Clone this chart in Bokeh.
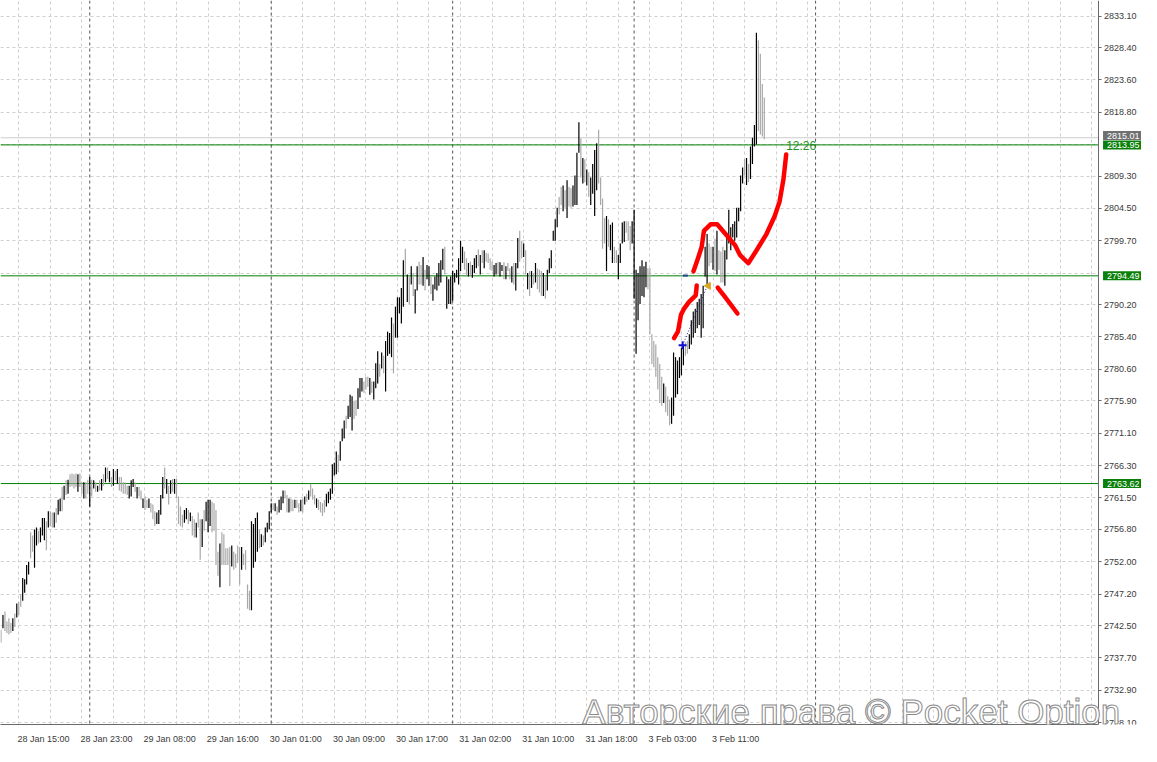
from bokeh.plotting import figure
from bokeh.models import (Range1d, FixedTicker, PrintfTickFormatter, Span, Label,
                          ColumnDataSource)
from bokeh.core.properties import value
from bokeh.embed import file_html
from bokeh.resources import INLINE

# ---------------- data (XAUUSD M15 bars) ----------------
highs = [
    2741.9, 2744.1, 2744.6, 2743.1, 2743.6, 2742.9, 2743.6, 2744.3, 2745.8, 2746.0,
    2747.2, 2749.6, 2749.4, 2751.5, 2752.0, 2756.4, 2755.9, 2756.8, 2757.1, 2756.6,
    2757.1, 2758.5, 2758.5, 2758.0, 2759.5, 2759.5, 2759.3, 2759.3, 2760.0, 2761.2,
    2761.4, 2763.1, 2763.3, 2764.1, 2764.2, 2765.0, 2765.1, 2765.0, 2765.1, 2765.0,
    2765.1, 2763.8, 2763.8, 2763.8, 2764.2, 2764.6, 2764.2, 2764.1, 2763.8, 2763.3,
    2764.1, 2764.3, 2765.0, 2766.0, 2766.0, 2765.5, 2764.6, 2765.8, 2765.5, 2765.8,
    2764.6, 2764.6, 2763.8, 2763.8, 2763.3, 2763.3, 2764.1, 2764.3, 2763.8, 2763.1,
    2763.1, 2762.6, 2761.4, 2761.7, 2761.2, 2761.4, 2760.7, 2760.5, 2759.5, 2759.3,
    2759.7, 2761.9, 2764.6, 2766.0, 2764.3, 2763.3, 2764.1, 2764.3, 2764.3, 2764.3,
    2761.7, 2760.2, 2759.0, 2759.7, 2760.0, 2759.7, 2759.3, 2758.8, 2758.3, 2757.8,
    2759.3, 2758.3, 2758.3, 2759.7, 2760.9, 2761.2, 2761.2, 2760.9, 2760.7, 2759.7,
    2753.5, 2754.7, 2756.4, 2756.1, 2754.0, 2754.0, 2754.2, 2754.4, 2753.5, 2753.2,
    2754.4, 2754.2, 2754.2, 2753.2, 2753.7, 2748.6, 2747.7, 2758.0, 2757.6, 2758.5,
    2759.3, 2756.8, 2756.1, 2755.9, 2757.1, 2757.8, 2759.5, 2760.7, 2760.7, 2760.7,
    2760.2, 2761.2, 2761.7, 2762.6, 2762.6, 2761.9, 2761.4, 2761.4, 2761.2, 2761.2,
    2761.2, 2760.7, 2761.2, 2761.4, 2761.7, 2762.1, 2762.6, 2763.6, 2762.9, 2761.9,
    2761.4, 2761.2, 2760.9, 2760.7, 2761.2, 2762.1, 2762.4, 2762.9, 2766.5, 2766.7,
    2768.4, 2767.9, 2769.9, 2771.8, 2773.0, 2773.7, 2775.2, 2776.8, 2776.6, 2775.9,
    2775.9, 2777.8, 2779.3, 2779.3, 2778.8, 2779.5, 2779.5, 2779.3, 2778.8, 2778.8,
    2781.5, 2783.3, 2781.4, 2783.1, 2782.6, 2784.8, 2786.2, 2786.0, 2788.3, 2787.4,
    2789.9, 2791.3, 2791.3, 2792.7, 2796.8, 2798.5, 2794.7, 2794.4, 2795.9, 2794.9,
    2792.5, 2795.9, 2796.6, 2796.1, 2797.3, 2795.4, 2796.1, 2795.9, 2794.4, 2793.2,
    2794.4, 2794.9, 2796.4, 2796.8, 2798.5, 2798.8, 2794.4, 2794.0, 2794.4, 2795.2,
    2794.9, 2795.4, 2797.1, 2799.7, 2798.8, 2798.1, 2797.1, 2796.4, 2796.6, 2796.1,
    2797.1, 2797.6, 2798.4, 2797.6, 2798.3, 2798.3, 2797.9, 2797.8, 2797.1, 2796.6,
    2796.1, 2796.4, 2796.6, 2796.5, 2796.1, 2796.5, 2795.9, 2796.4, 2795.6, 2795.9,
    2796.4, 2796.4, 2800.1, 2801.2, 2799.7, 2799.3, 2798.3, 2794.9, 2795.2, 2795.2,
    2794.9, 2796.4, 2795.6, 2795.4, 2795.2, 2794.9, 2794.4, 2795.4, 2797.1, 2798.3,
    2801.2, 2802.9, 2804.6, 2806.2, 2807.7, 2807.9, 2807.2, 2808.7, 2807.7, 2807.5,
    2807.9, 2809.4, 2812.8, 2817.3, 2814.9, 2812.0, 2811.8, 2810.3, 2809.9, 2809.1,
    2811.1, 2813.2, 2814.2, 2816.2, 2809.1, 2806.0, 2803.1, 2803.4, 2802.9, 2802.1,
    2802.4, 2798.8, 2798.3, 2797.6, 2799.3, 2802.4, 2802.6, 2802.6, 2802.6, 2801.9,
    2802.6, 2804.3, 2795.4, 2794.9, 2795.9, 2796.8, 2795.9, 2796.6, 2795.6, 2795.6,
    2785.8, 2784.8, 2784.3, 2782.4, 2781.4, 2779.5, 2778.5, 2778.0, 2776.6, 2776.1,
    2776.4, 2783.1, 2782.4, 2781.9, 2782.4, 2783.8, 2784.3, 2784.6, 2784.8, 2785.8,
    2787.9, 2789.2, 2789.6, 2790.6, 2791.1, 2791.8, 2793.0, 2798.8, 2800.7, 2799.3,
    2798.8, 2798.8, 2800.0, 2801.2, 2798.3, 2798.1, 2798.8, 2798.3, 2800.2, 2804.3,
    2801.7, 2802.2, 2802.6, 2804.6, 2804.6, 2809.4, 2810.6, 2811.8, 2812.0, 2811.1,
    2813.7, 2815.0, 2816.9, 2830.6, 2829.5, 2827.5, 2823.0, 2821.0,
]
lows = [
    2740.0, 2742.1, 2741.7, 2741.4, 2741.2, 2741.4, 2741.7, 2742.3, 2743.7, 2744.1,
    2745.3, 2746.2, 2747.4, 2748.6, 2750.1, 2752.5, 2753.5, 2751.1, 2754.4, 2754.7,
    2754.9, 2755.9, 2755.2, 2753.7, 2757.1, 2757.3, 2757.1, 2757.1, 2757.8, 2759.0,
    2759.5, 2759.5, 2761.2, 2761.9, 2762.1, 2763.1, 2763.2, 2762.9, 2763.1, 2762.4,
    2763.1, 2762.1, 2761.4, 2761.4, 2762.1, 2760.2, 2761.7, 2762.9, 2762.4, 2762.4,
    2762.6, 2762.6, 2763.3, 2763.8, 2764.3, 2763.8, 2763.1, 2763.3, 2764.1, 2763.6,
    2762.6, 2762.4, 2762.1, 2762.1, 2761.9, 2761.4, 2761.7, 2763.1, 2762.4, 2761.4,
    2761.7, 2761.2, 2760.0, 2759.7, 2760.0, 2760.0, 2759.3, 2758.3, 2757.3, 2757.6,
    2757.6, 2759.0, 2761.4, 2762.9, 2762.1, 2760.5, 2762.1, 2762.4, 2762.1, 2761.4,
    2757.6, 2757.3, 2757.1, 2757.8, 2758.3, 2757.6, 2758.0, 2755.9, 2755.6, 2755.6,
    2757.1, 2752.3, 2754.2, 2756.6, 2758.0, 2756.4, 2757.3, 2756.4, 2756.6, 2751.5,
    2749.9, 2748.2, 2751.5, 2751.5, 2751.5, 2751.5, 2748.4, 2751.3, 2750.8, 2751.1,
    2751.8, 2748.6, 2750.8, 2751.5, 2750.8, 2745.0, 2744.8, 2744.8, 2751.1, 2752.0,
    2753.5, 2754.0, 2754.2, 2754.4, 2754.9, 2756.4, 2756.8, 2759.3, 2759.7, 2759.5,
    2759.0, 2759.3, 2759.7, 2760.7, 2761.4, 2759.3, 2759.3, 2759.5, 2759.5, 2760.0,
    2760.0, 2759.3, 2759.5, 2759.3, 2760.5, 2760.9, 2761.2, 2761.7, 2761.2, 2760.5,
    2760.0, 2759.7, 2759.3, 2758.8, 2759.3, 2760.2, 2760.7, 2761.2, 2762.1, 2764.8,
    2765.0, 2765.3, 2767.0, 2769.9, 2770.3, 2771.8, 2773.2, 2773.5, 2771.5, 2773.2,
    2773.7, 2774.7, 2776.4, 2777.3, 2777.1, 2777.6, 2778.0, 2776.8, 2777.1, 2776.1,
    2777.8, 2778.5, 2779.5, 2780.7, 2780.0, 2777.3, 2782.6, 2782.9, 2782.4, 2780.0,
    2785.3, 2785.3, 2788.9, 2787.4, 2789.9, 2794.7, 2790.6, 2790.3, 2793.2, 2791.5,
    2788.9, 2792.3, 2793.2, 2793.2, 2793.0, 2792.3, 2794.0, 2793.0, 2791.8, 2790.8,
    2792.5, 2792.3, 2793.0, 2793.5, 2795.4, 2794.7, 2789.6, 2790.3, 2790.3, 2790.8,
    2793.5, 2794.2, 2793.2, 2795.2, 2796.4, 2795.4, 2794.4, 2794.4, 2794.4, 2794.2,
    2794.9, 2795.6, 2795.9, 2794.7, 2796.4, 2795.6, 2796.6, 2796.4, 2795.4, 2795.2,
    2794.4, 2794.7, 2794.7, 2794.4, 2795.2, 2794.0, 2794.0, 2795.2, 2794.0, 2793.5,
    2793.2, 2792.3, 2795.6, 2796.6, 2797.1, 2797.3, 2794.7, 2792.5, 2791.5, 2792.7,
    2793.2, 2793.5, 2792.5, 2792.0, 2791.5, 2791.5, 2791.1, 2792.3, 2794.9, 2795.6,
    2799.7, 2799.7, 2801.7, 2803.6, 2805.0, 2804.1, 2804.6, 2803.1, 2804.8, 2804.6,
    2804.8, 2805.0, 2805.0, 2812.8, 2809.1, 2808.2, 2808.4, 2807.9, 2806.2, 2805.0,
    2806.7, 2803.4, 2807.2, 2808.2, 2805.0, 2798.5, 2799.3, 2795.2, 2798.8, 2798.3,
    2796.4, 2796.4, 2796.4, 2794.0, 2796.4, 2799.3, 2799.5, 2800.9, 2799.7, 2798.3,
    2799.3, 2791.1, 2782.9, 2787.9, 2790.3, 2791.5, 2791.3, 2792.8, 2792.5, 2785.8,
    2781.4, 2780.9, 2779.5, 2777.6, 2775.6, 2775.2, 2775.6, 2774.2, 2773.7, 2772.3,
    2772.5, 2773.7, 2776.4, 2776.9, 2779.3, 2779.7, 2781.2, 2782.6, 2782.9, 2783.6,
    2784.3, 2785.3, 2786.0, 2786.7, 2787.2, 2785.3, 2786.7, 2794.4, 2793.2, 2795.9,
    2796.4, 2795.4, 2795.2, 2794.7, 2795.4, 2793.5, 2793.5, 2793.0, 2796.9, 2799.3,
    2798.3, 2800.2, 2799.7, 2800.2, 2802.6, 2804.1, 2808.2, 2809.4, 2808.0, 2808.4,
    2808.9, 2811.1, 2813.7, 2814.0, 2816.0, 2815.5, 2815.2, 2814.8,
]
ups = [
    0, 1, 0, 0, 0, 0, 1, 0, 1, 0,
    0, 1, 1, 1, 1, 0, 0, 1, 1, 0,
    1, 1, 1, 0, 1, 0, 0, 1, 0, 1,
    1, 0, 1, 0, 1, 0, 0, 0, 0, 1,
    0, 0, 1, 0, 0, 1, 0, 1, 0, 1,
    0, 1, 0, 1, 0, 1, 0, 1, 0, 1,
    0, 0, 0, 0, 0, 1, 1, 1, 0, 1,
    0, 0, 1, 0, 0, 1, 0, 0, 0, 1,
    1, 1, 1, 0, 1, 0, 1, 0, 1, 0,
    0, 0, 0, 1, 1, 0, 1, 0, 0, 1,
    0, 0, 1, 0, 1, 1, 1, 0, 0, 0,
    0, 1, 0, 0, 0, 0, 0, 1, 0, 0,
    0, 0, 1, 0, 0, 0, 0, 1, 1, 1,
    1, 0, 1, 0, 1, 1, 1, 1, 0, 1,
    0, 1, 1, 1, 0, 0, 1, 0, 0, 1,
    0, 0, 1, 0, 1, 0, 1, 0, 0, 0,
    1, 0, 0, 0, 0, 1, 1, 1, 1, 1,
    1, 0, 1, 1, 1, 0, 1, 1, 1, 0,
    0, 1, 1, 1, 0, 0, 0, 1, 0, 1,
    1, 1, 0, 1, 0, 1, 1, 1, 1, 0,
    1, 1, 1, 1, 1, 0, 1, 0, 1, 0,
    1, 1, 0, 0, 1, 0, 1, 1, 0, 1,
    1, 1, 1, 1, 1, 0, 1, 1, 1, 1,
    1, 1, 1, 1, 1, 0, 0, 1, 0, 1,
    1, 1, 0, 1, 0, 1, 0, 0, 0, 0,
    1, 1, 0, 1, 1, 0, 1, 0, 0, 1,
    0, 1, 1, 0, 0, 1, 0, 1, 0, 1,
    0, 1, 0, 0, 0, 1, 0, 1, 1, 1,
    1, 1, 1, 0, 0, 1, 0, 1, 0, 0,
    1, 1, 1, 1, 0, 1, 0, 1, 0, 1,
    1, 1, 1, 0, 0, 0, 0, 1, 0, 1,
    1, 0, 0, 1, 1, 1, 1, 0, 0, 0,
    1, 1, 1, 1, 1, 1, 1, 1, 0, 0,
    0, 0, 0, 0, 0, 0, 1, 0, 0, 0,
    1, 1, 1, 1, 1, 1, 1, 0, 0, 1,
    1, 1, 1, 1, 1, 1, 1, 1, 1, 0,
    0, 1, 0, 1, 0, 0, 0, 1, 1, 1,
    1, 1, 1, 1, 1, 1, 1, 0, 1, 0,
    1, 1, 1, 1, 0, 0, 0, 0,
]

y_tick_values = [2833.10, 2828.40, 2823.60, 2818.80, 2809.30, 2804.50, 2799.70,
                 2790.20, 2785.40, 2780.60, 2775.90, 2771.10, 2766.30, 2761.50,
                 2756.80, 2752.00, 2747.20, 2742.50, 2737.70, 2732.90, 2728.10]
y_hidden_grid_values = [2814.00, 2794.90]
time_labels = ["28 Jan 15:00", "28 Jan 23:00", "29 Jan 08:00", "29 Jan 16:00",
               "30 Jan 01:00", "30 Jan 09:00", "30 Jan 17:00", "31 Jan 02:00",
               "31 Jan 10:00", "31 Jan 18:00", "3 Feb 03:00", "3 Feb 11:00"]
time_label_bars = [8.5, 40.5, 72.5, 104.5, 136.5, 168.5, 200.5, 232.5, 264.5,
                   296.5, 328.5, 360.5]
day_separator_bars = [45, 137, 229, 321, 413]
level_prices = [2813.95, 2794.49, 2763.62]
bid_price = 2815.01
timer_text = "12:26"
timer_x, timer_y = 398.1, 2813.86
watermark_text = "Авторские права © Pocket Option"

# hand-drawn red strokes (bar index, price)
red1_x = [341.25, 343.25, 344.75, 346.25, 348.75, 352.25, 352.75]
red1_y = [2785.23, 2786.24, 2788.70, 2789.57, 2790.58, 2791.59, 2793.04]
red2_x = [351.1, 353.1, 355.25, 356.4, 359.75, 363.1, 368.1, 372.25, 374.75,
          378.9, 383.1, 388.1, 392.25, 394.75, 396.75, 398.1]
red2_y = [2795.16, 2796.84, 2798.78, 2801.18, 2802.15, 2802.15, 2800.46, 2799.01,
          2797.56, 2796.36, 2798.29, 2800.70, 2803.35, 2805.52, 2808.90, 2812.52]
red3_x = [363.4, 367.25, 373.4]
red3_y = [2792.75, 2791.30, 2788.89]
# trade markers
entry_x, entry_y = [345.6], [2784.17]
trade_line_x, trade_line_y = [345.6, 358.1], [2784.17, 2793.0]
exit_x, exit_y = [358.6], [2793.0]
dash_x, dash_y = [345.75, 348.25], [2794.53, 2794.53]

# ---------------- layout constants ----------------
X_LEFT, X_AXIS, X_RIGHT = -0.25, 556.25, 578.25      # chart edge, price axis, canvas edge (bar units)
Y_AXIS, Y_TOP = 2727.81, 2835.41                     # time axis, chart top (price)

FONT = "Liberation Sans"
p = figure(width=1141, height=746, output_backend="svg", toolbar_location=None,
           x_range=Range1d(X_LEFT, X_RIGHT), y_range=Range1d(Y_AXIS, Y_TOP),
           y_axis_location="right", min_border_left=0, min_border_top=0,
           min_border_right=0, min_border_bottom=18)
p.outline_line_color = None
p.background_fill_color = "white"

# grids
p.xgrid.ticker = FixedTicker(ticks=[9 + 16 * k for k in range(35)])
p.ygrid.ticker = FixedTicker(ticks=y_tick_values + y_hidden_grid_values)
for g in (p.xgrid, p.ygrid):
    g.grid_line_color = "#cfcfcf"
    g.grid_line_dash = "3 3"
    g.grid_line_width = 1

# day separators and bid line (underlay)
for b in day_separator_bars:
    p.add_layout(Span(location=b, dimension="height", line_color="#555555",
                      line_dash="3 3", line_width=1, level="underlay"))
p.add_layout(Span(location=bid_price, dimension="width", line_color="#cccccc",
                  line_width=1, level="underlay"))

# white margin that holds the price axis
p.quad(left=[X_AXIS], right=[X_RIGHT + 5], bottom=[Y_AXIS - 5], top=[Y_TOP + 5],
       fill_color="white", line_color=None)

# horizontal levels
p.segment(x0=[X_LEFT] * len(level_prices), x1=[X_AXIS] * len(level_prices),
          y0=level_prices, y1=level_prices, line_color="#008000", line_width=1)

# y axis (right, fixed inside canvas)
ya = p.yaxis[0]
ya.fixed_location = X_AXIS
ya.ticker = FixedTicker(ticks=y_tick_values)
ya.formatter = PrintfTickFormatter(format="%.2f")
ya.axis_line_color = "#6a6a6a"
ya.major_tick_line_color = "#6a6a6a"
ya.major_tick_out = 3
ya.major_tick_in = 0
ya.minor_tick_line_color = None
ya.major_label_standoff = 3
ya.major_label_text_font = FONT
ya.major_label_text_font_size = "9px"
ya.major_label_text_color = "#3a3a3a"

# x axis (bottom panel)
xa = p.xaxis[0]
xa.bounds = (X_LEFT, X_AXIS)
centers = [b + (12.0 if "Feb" in lab else 13.0) for b, lab in zip(time_label_bars, time_labels)]
xa.ticker = FixedTicker(ticks=centers)
xa.major_label_overrides = {c: lab for c, lab in zip(centers, time_labels)}
xa.axis_line_color = "#6a6a6a"
xa.major_tick_line_color = None
xa.minor_tick_line_color = None
xa.major_label_standoff = 3
xa.major_label_text_font = FONT
xa.major_label_text_font_size = "9px"
xa.major_label_text_color = "#3a3a3a"

# bars
src = ColumnDataSource(dict(
    x=list(range(len(highs))), high=highs, low=lows,
    color=["#000000" if u else "#a8a8a8" for u in ups]))
p.segment(x0="x", y0="low", x1="x", y1="high", source=src, line_color="color",
          line_width=1.2)

# red hand-drawn strokes
for xs, ys in ((red1_x, red1_y), (red2_x, red2_y), (red3_x, red3_y)):
    p.line(xs, ys, line_color="#ff0000", line_width=4.5, line_cap="round", line_join="round")

# trade markers
p.line(trade_line_x, trade_line_y, line_color="#1a1a9a", line_dash="1 2", line_width=1)
p.line(dash_x, dash_y, line_color="#1f3f8f", line_width=2)
p.scatter(entry_x, entry_y, marker="cross", size=8, line_color="#1010d0", line_width=2)
p.scatter(exit_x, exit_y, marker="triangle", angle=1.5708, size=7,
          fill_color="#d9a520", line_color="#d9a520")

# timer text
p.text(x=[timer_x], y=[timer_y], text=[timer_text], text_font=value(FONT),
       text_font_size="12px", text_color="#1f8f1f", text_baseline="middle",
       text_align="left")

# price boxes on the right axis
box_x = 558.75
box_pad = dict(left=4, right=3, top=2, bottom=1)
p.add_layout(Label(x=box_x, y=bid_price + 0.35, text=f"{bid_price:.2f}", text_font=FONT,
                   text_font_size="9px", text_color="white", text_align="left",
                   text_baseline="middle", background_fill_color="#707070",
                   padding=box_pad))
for lv in level_prices:
    p.add_layout(Label(x=box_x, y=lv, text=f"{lv:.2f}", text_font=FONT,
                       text_font_size="9px", text_color="white", text_align="left",
                       text_baseline="middle", background_fill_color="#0a800a",
                       padding=box_pad))

# watermark
p.add_layout(Label(x=294.75, y=2729.7, text=watermark_text, text_font=FONT,
                   text_font_size="35px", text_color="white", text_align="left",
                   text_baseline="alphabetic", text_outline_color="#8a8a8a"))

open("out.html", "w").write(file_html(p, INLINE))
